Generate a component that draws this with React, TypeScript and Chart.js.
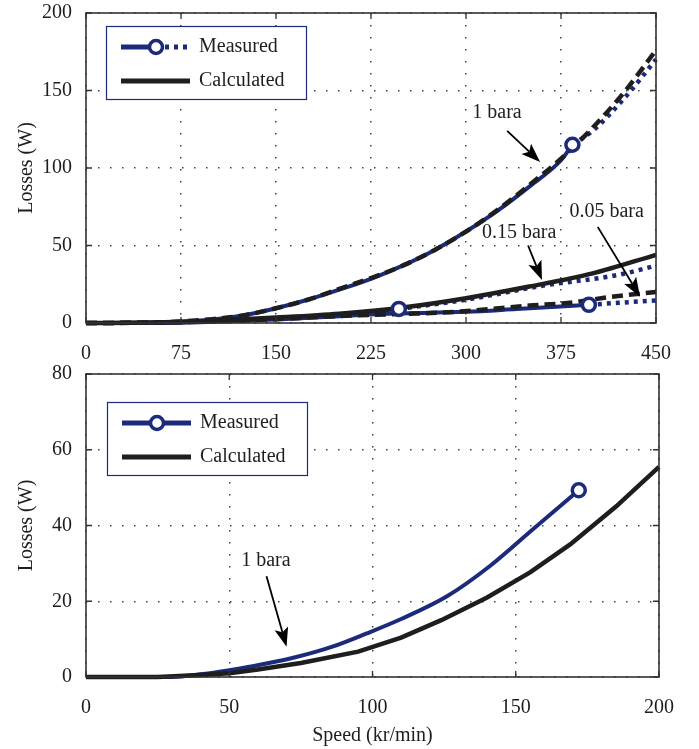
import { useEffect, useRef } from "react";
import { Chart, registerables } from "chart.js";

Chart.register(...registerables);

const FONT = "'Liberation Serif', 'Times New Roman', serif";
const NAVY = "#1c2a7c";
const INK = "#1e1e1e";

const legendLabels = ["Measured", "Calculated"];
const yTitle = "Losses (W)";
const xTitle = "Speed (kr/min)";

// ---------- top panel ----------
const topXTicks = [0, 75, 150, 225, 300, 375, 450];
const topYTicks = [0, 50, 100, 150, 200];

// 1 bara
const calc1Speed = [0, 50, 75, 100, 125, 150, 175, 200, 225, 250, 275, 300, 325, 350, 375, 400, 425, 450];
const calc1Loss = [0, 0.3, 1, 2.5, 5, 9.5, 15, 22, 29, 37, 47, 59, 73, 89, 106, 126, 149, 176];
const meas1Speed = [0, 50, 75, 100, 125, 150, 175, 200, 225, 250, 275, 300, 325, 350, 375, 384];
const meas1Loss = [0, 0.2, 0.8, 2.3, 5, 9.5, 15, 21.5, 28.5, 37, 47, 59, 72.5, 88, 105, 115];
const meas1ExtSpeed = [384, 400, 425, 450];
const meas1ExtLoss = [115, 124, 145, 170];

// 0.15 bara
const calc015Speed = [0, 50, 100, 150, 200, 250, 300, 350, 400, 450];
const calc015Loss = [0, 0.3, 1.5, 3.5, 6, 10, 16, 23.5, 32, 44];
const meas015Speed = [0, 50, 100, 150, 200, 247];
const meas015Loss = [0, 0.2, 1.2, 3, 5.5, 9.1];
const meas015ExtSpeed = [247, 300, 360, 420, 450];
const meas015ExtLoss = [9.1, 15, 24, 31, 37];

// 0.05 bara
const calc005Speed = [0, 50, 100, 150, 200, 250, 290, 320, 350, 380, 413, 450];
const calc005Loss = [0, 0.2, 1, 2.5, 4.5, 5.8, 7.1, 9.1, 11.3, 12.9, 16.7, 20];
const meas005Speed = [0, 50, 100, 150, 200, 232, 300, 340, 397];
const meas005Loss = [0, 0, 0.8, 2.3, 4.3, 5.8, 7.2, 9, 11.7];
const meas005ExtSpeed = [397, 420, 450];
const meas005ExtLoss = [11.7, 13, 14.6];

// ---------- bottom panel ----------
const botXTicks = [0, 50, 100, 150, 200];
const botYTicks = [0, 20, 40, 60, 80];
const calcBSpeed = [0, 25, 40, 50, 60, 75, 95, 110, 124, 140, 155, 169, 185, 200];
const calcBLoss = [0, 0, 0.5, 1, 2, 3.7, 6.7, 10.4, 15, 21, 27.6, 35, 45, 55.5];
const measBSpeed = [0, 30, 40, 50, 57, 72, 86, 98, 110, 126, 141, 156, 172];
const measBLoss = [0, 0, 0.7, 1.8, 2.7, 5, 8, 11.5, 15.3, 21.3, 29.3, 39, 49.3];

// annotations (data units)
type Note = { text: string; x: number; y: number };
type Arrow = [number, number, number, number];
const topNotes: Note[] = [
  { text: "1 bara", x: 324.5, y: 135.5 },
  { text: "0.15 bara", x: 342, y: 58 },
  { text: "0.05 bara", x: 411, y: 71.6 },
];
const topArrows: Arrow[] = [
  [332.5, 123.9, 358.5, 103.9],
  [349, 50, 360, 27.7],
  [404, 62, 437.4, 17],
];
const botNotes: Note[] = [{ text: "1 bara", x: 62.8, y: 30.6 }];
const botArrows: Arrow[] = [[63, 26.6, 70, 8]];

const zip = (xs: number[], ys: number[]) => xs.map((x, i) => ({ x, y: ys[i] }));
const last = (xs: number[], ys: number[]) => ({ x: xs[xs.length - 1], y: ys[ys.length - 1] });

const calcLine = (xs: number[], ys: number[], dashed: boolean, smooth = true) => ({
  data: zip(xs, ys),
  borderColor: INK,
  borderWidth: 4.5,
  borderDash: dashed ? [11, 6] : [],
  pointRadius: 0,
  showLine: true,
  cubicInterpolationMode: smooth ? "monotone" : "default",
  clip: 4,
});
const measSolid = (xs: number[], ys: number[]) => ({
  data: zip(xs, ys),
  borderColor: NAVY,
  borderWidth: 4,
  pointRadius: 0,
  showLine: true,
  cubicInterpolationMode: "monotone",
  clip: 4,
});
const measDotted = (xs: number[], ys: number[]) => ({
  data: zip(xs, ys),
  borderColor: NAVY,
  borderWidth: 4.5,
  borderDash: [4, 5],
  pointRadius: 0,
  showLine: true,
  cubicInterpolationMode: "monotone",
  clip: 4,
});
const circles = (pts: { x: number; y: number }[]) => ({
  data: pts,
  showLine: false,
  pointRadius: 6.5,
  pointBorderWidth: 3.5,
  pointBorderColor: NAVY,
  pointBackgroundColor: "#ffffff",
  clip: 10,
});

function makeDecor(notes: Note[], arrows: Arrow[], legendDotted: boolean, dx: number, dy: number) {
  return {
    id: "decor",
    afterDatasetsDraw(chart: any) {
      const { ctx, chartArea: a } = chart;
      const xs = chart.scales.x;
      const ys = chart.scales.y;
      ctx.save();
      ctx.setLineDash([]);
      // inward ticks
      ctx.strokeStyle = "#333";
      ctx.lineWidth = 1.3;
      ctx.beginPath();
      for (const t of xs.ticks) {
        const p = xs.getPixelForValue(t.value);
        ctx.moveTo(p, a.bottom);
        ctx.lineTo(p, a.bottom - 6);
        ctx.moveTo(p, a.top);
        ctx.lineTo(p, a.top + 6);
      }
      for (const t of ys.ticks) {
        const p = ys.getPixelForValue(t.value);
        ctx.moveTo(a.left, p);
        ctx.lineTo(a.left + 6, p);
        ctx.moveTo(a.right, p);
        ctx.lineTo(a.right - 6, p);
      }
      ctx.stroke();
      // frame
      ctx.lineWidth = 1.6;
      ctx.strokeRect(a.left, a.top, a.right - a.left, a.bottom - a.top);

      // arrows
      ctx.strokeStyle = "#000";
      ctx.fillStyle = "#000";
      for (const [x1, y1, x2, y2] of arrows) {
        const X1 = xs.getPixelForValue(x1);
        const Y1 = ys.getPixelForValue(y1);
        const X2 = xs.getPixelForValue(x2);
        const Y2 = ys.getPixelForValue(y2);
        const ang = Math.atan2(Y2 - Y1, X2 - X1);
        const L = 19;
        const W = 7;
        const c = Math.cos(ang);
        const s = Math.sin(ang);
        const bx = X2 - L * c;
        const by = Y2 - L * s;
        ctx.lineWidth = 1.8;
        ctx.beginPath();
        ctx.moveTo(X1, Y1);
        ctx.lineTo(bx + 4 * c, by + 4 * s);
        ctx.stroke();
        ctx.beginPath();
        ctx.moveTo(X2, Y2);
        ctx.lineTo(bx + W * s, by - W * c);
        ctx.lineTo(bx + 4 * c, by + 4 * s);
        ctx.lineTo(bx - W * s, by + W * c);
        ctx.closePath();
        ctx.fill();
      }
      // notes
      ctx.font = `20px ${FONT}`;
      ctx.fillStyle = INK;
      ctx.textAlign = "center";
      ctx.textBaseline = "middle";
      for (const n of notes) {
        ctx.fillText(n.text, xs.getPixelForValue(n.x), ys.getPixelForValue(n.y));
      }

      // legend
      const bx = a.left + dx;
      const by = a.top + dy;
      const bw = 200;
      const bh = 73;
      ctx.fillStyle = "#fff";
      ctx.fillRect(bx, by, bw, bh);
      ctx.strokeStyle = NAVY;
      ctx.lineWidth = 1.2;
      ctx.strokeRect(bx + 0.5, by + 0.5, bw, bh);
      const r1 = by + 21;
      const r2 = by + 55;
      const x0 = bx + 15;
      const x1 = bx + 84;
      const cx = bx + 50;
      ctx.strokeStyle = NAVY;
      ctx.lineWidth = 5;
      ctx.beginPath();
      ctx.moveTo(x0, r1);
      ctx.lineTo(legendDotted ? cx : x1, r1);
      ctx.stroke();
      if (legendDotted) {
        ctx.setLineDash([4, 5]);
        ctx.beginPath();
        ctx.moveTo(cx + 9, r1);
        ctx.lineTo(x1, r1);
        ctx.stroke();
        ctx.setLineDash([]);
      }
      ctx.beginPath();
      ctx.arc(cx, r1, 6.5, 0, Math.PI * 2);
      ctx.fillStyle = "#fff";
      ctx.fill();
      ctx.lineWidth = 3.5;
      ctx.stroke();
      ctx.strokeStyle = INK;
      ctx.lineWidth = 5;
      ctx.beginPath();
      ctx.moveTo(x0, r2);
      ctx.lineTo(x1, r2);
      ctx.stroke();
      ctx.fillStyle = INK;
      ctx.textAlign = "left";
      ctx.fillText(legendLabels[0], bx + 93, r1);
      ctx.fillText(legendLabels[1], bx + 93, r2);
      ctx.restore();
    },
  };
}

function axisOptions(xTicks: number[], yTicks: number[], xHeight: number, withXTitle: boolean) {
  const tickFont = { family: FONT, size: 20 };
  return {
    x: {
      type: "linear",
      min: xTicks[0],
      max: xTicks[xTicks.length - 1],
      afterBuildTicks: (sc: any) => {
        sc.ticks = xTicks.map((v) => ({ value: v }));
      },
      afterFit: (sc: any) => {
        sc.height = xHeight;
      },
      ticks: { font: tickFont, color: INK, padding: 19, maxRotation: 0, autoSkip: false },
      grid: { color: "#444", lineWidth: 1.5, drawTicks: false },
      border: { display: false, dash: [1.5, 10.5] },
      title: {
        display: withXTitle,
        text: xTitle,
        font: tickFont,
        color: INK,
        padding: { top: 0, bottom: 1 },
      },
    },
    y: {
      type: "linear",
      min: yTicks[0],
      max: yTicks[yTicks.length - 1],
      afterBuildTicks: (sc: any) => {
        sc.ticks = yTicks.map((v) => ({ value: v }));
      },
      afterFit: (sc: any) => {
        sc.width = 86;
        sc.paddingTop = 0;
        sc.paddingBottom = 0;
      },
      ticks: { font: tickFont, color: INK, padding: 14 },
      grid: { color: "#444", lineWidth: 1.5, drawTicks: false },
      border: { display: false, dash: [1.5, 10.5] },
      title: {
        display: true,
        text: yTitle,
        font: tickFont,
        color: INK,
        padding: { top: 15, bottom: 0 },
      },
    },
  };
}

function Panel({ top, height, config }: { top: number; height: number; config: any }) {
  const ref = useRef<HTMLCanvasElement | null>(null);
  useEffect(() => {
    if (!ref.current) return;
    const chart = new Chart(ref.current, config);
    return () => chart.destroy();
  }, [config]);
  return (
    <canvas
      ref={ref}
      width={699}
      height={height}
      style={{ position: "absolute", left: 0, top, width: 699, height }}
    />
  );
}

const topConfig = {
  type: "scatter",
  data: {
    datasets: [
      circles([last(meas1Speed, meas1Loss), last(meas015Speed, meas015Loss), last(meas005Speed, meas005Loss)]),
      calcLine(calc1Speed, calc1Loss, true),
      calcLine(calc015Speed, calc015Loss, false),
      calcLine(calc005Speed, calc005Loss, true),
      measSolid(meas1Speed, meas1Loss),
      measSolid(meas015Speed, meas015Loss),
      measSolid(meas005Speed, meas005Loss),
      measDotted(meas1ExtSpeed, meas1ExtLoss),
      measDotted(meas015ExtSpeed, meas015ExtLoss),
      measDotted(meas005ExtSpeed, meas005ExtLoss),
    ],
  },
  options: {
    responsive: false,
    animation: false,
    layout: { padding: { top: 13, right: 43, bottom: 0, left: 0 } },
    plugins: { legend: { display: false }, tooltip: { enabled: false } },
    scales: axisOptions(topXTicks, topYTicks, 45, false),
  },
  plugins: [makeDecor(topNotes, topArrows, true, 20, 13)],
};

const botConfig = {
  type: "scatter",
  data: {
    datasets: [
      circles([last(measBSpeed, measBLoss)]),
      calcLine(calcBSpeed, calcBLoss, false, false),
      measSolid(measBSpeed, measBLoss),
    ],
  },
  options: {
    responsive: false,
    animation: false,
    layout: { padding: { top: 14, right: 40, bottom: 0, left: 0 } },
    plugins: { legend: { display: false }, tooltip: { enabled: false } },
    scales: axisOptions(botXTicks, botYTicks, 72, true),
  },
  plugins: [makeDecor(botNotes, botArrows, false, 21, 28)],
};

export default function App() {
  return (
    <div style={{ position: "absolute", left: 0, top: 0, width: 699, height: 749, background: "#fff" }}>
      <Panel top={0} height={368} config={topConfig} />
      <Panel top={360} height={389} config={botConfig} />
    </div>
  );
}
